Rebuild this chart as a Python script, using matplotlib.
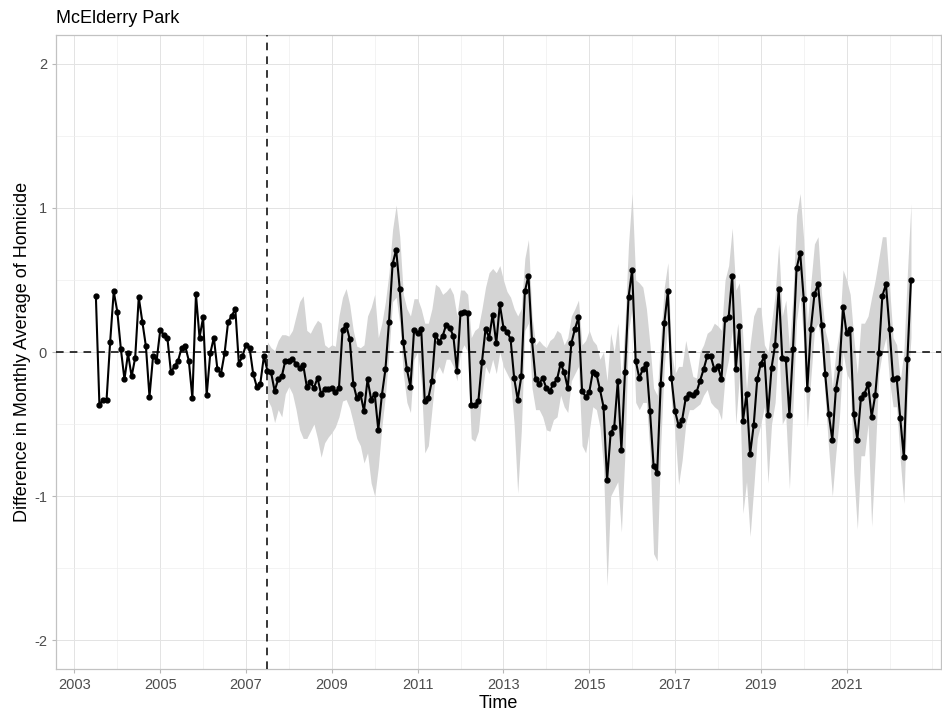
import numpy as np
import pandas as pd
import matplotlib
matplotlib.use("Agg")
import matplotlib.pyplot as plt
from matplotlib.ticker import MultipleLocator, FixedLocator

plt.rcParams['font.family'] = ['Liberation Sans', 'DejaVu Sans']

# monthly difference series, starting July 2003
diff = [
    0.39, -0.37, -0.33, -0.33, 0.07, 0.42, 0.28, 0.02, -0.19, -0.01,
    -0.17, -0.04, 0.38, 0.21, 0.04, -0.31, -0.03, -0.06, 0.15, 0.12,
    0.10, -0.14, -0.10, -0.06, 0.03, 0.04, -0.06, -0.32, 0.40, 0.10,
    0.24, -0.30, -0.01, 0.10, -0.12, -0.15, -0.01, 0.21, 0.25, 0.30,
    -0.08, -0.03, 0.05, 0.03, -0.15, -0.24, -0.22, -0.03, -0.13, -0.14,
    -0.27, -0.19, -0.17, -0.06, -0.06, -0.05, -0.08, -0.11, -0.09, -0.24,
    -0.21, -0.25, -0.18, -0.29, -0.26, -0.26, -0.25, -0.28, -0.25, 0.15,
    0.19, 0.09, -0.22, -0.32, -0.29, -0.41, -0.19, -0.33, -0.29, -0.54,
    -0.30, -0.12, 0.21, 0.61, 0.71, 0.44, 0.07, -0.12, -0.24, 0.15,
    0.13, 0.16, -0.34, -0.32, -0.20, 0.12, 0.07, 0.11, 0.19, 0.17,
    0.11, -0.13, 0.27, 0.28, 0.27, -0.37, -0.37, -0.34, -0.07, 0.16,
    0.10, 0.26, 0.06, 0.33, 0.17, 0.14, 0.09, -0.18, -0.33, -0.17,
    0.42, 0.53, 0.08, -0.19, -0.22, -0.18, -0.25, -0.27, -0.22, -0.19,
    -0.08, -0.14, -0.25, 0.06, 0.16, 0.24, -0.27, -0.31, -0.28, -0.14,
    -0.15, -0.26, -0.38, -0.89, -0.56, -0.52, -0.20, -0.68, -0.14, 0.38,
    0.57, -0.06, -0.18, -0.12, -0.08, -0.41, -0.79, -0.84, -0.22, 0.20,
    0.42, -0.18, -0.41, -0.51, -0.47, -0.32, -0.29, -0.30, -0.28, -0.20,
    -0.12, -0.03, -0.03, -0.12, -0.10, -0.19, 0.23, 0.24, 0.53, -0.12,
    0.18, -0.48, -0.29, -0.71, -0.51, -0.19, -0.08, -0.03, -0.44, -0.11,
    0.05, 0.44, -0.04, -0.05, -0.44, 0.02, 0.58, 0.69, 0.37, -0.26,
    0.16, 0.40, 0.47, 0.19, -0.15, -0.43, -0.61, -0.26, -0.11, 0.31,
    0.13, 0.16, -0.43, -0.61, -0.32, -0.29, -0.22, -0.45, -0.30, -0.01,
    0.39, 0.47, 0.16, -0.19, -0.18, -0.46, -0.73, -0.05, 0.50,
]

# interval bounds from the intervention month (July 2007) onwards
band_hi = [
    0.07, 0.03, 0.01, 0.08, 0.12, 0.12, 0.11, 0.15, 0.25, 0.35,
    0.39, 0.15, 0.13, 0.18, 0.22, 0.20, 0.05, 0.03, 0.05, 0.04,
    0.25, 0.38, 0.44, 0.33, 0.15, 0.04, 0.03, 0.05, 0.25, 0.31,
    0.40, 0.10, 0.20, 0.35, 0.55, 0.85, 1.02, 0.80, 0.40, 0.30,
    0.25, 0.37, 0.37, 0.30, 0.20, 0.20, 0.30, 0.47, 0.45, 0.40,
    0.42, 0.45, 0.40, 0.25, 0.43, 0.43, 0.40, 0.10, 0.15, 0.17,
    0.30, 0.45, 0.55, 0.58, 0.55, 0.60, 0.50, 0.42, 0.38, 0.30,
    0.25, 0.30, 0.65, 0.78, 0.25, 0.05, 0.08, 0.05, 0.03, 0.08,
    0.10, 0.15, 0.13, 0.05, 0.10, 0.25, 0.30, 0.36, 0.05, 0.08,
    0.15, 0.08, 0.05, -0.05, 0.00, -0.20, 0.13, 0.00, 0.20, -0.20,
    0.20, 0.75, 1.10, 0.50, 0.48, 0.45, 0.30, 0.05, -0.25, -0.30,
    0.10, 0.45, 0.62, 0.00, -0.15, -0.10, -0.10, 0.08, -0.05, -0.17,
    -0.18, 0.00, 0.05, 0.13, 0.15, 0.20, 0.18, 0.15, 0.50, 0.60,
    0.86, 0.43, 0.48, 0.10, -0.26, 0.05, 0.25, 0.31, 0.31, 0.05,
    0.00, 0.20, 0.40, 0.75, 0.25, 0.36, 0.02, 0.40, 0.95, 1.10,
    0.78, 0.20, 0.48, 0.75, 0.80, 0.40, 0.15, 0.05, -0.25, 0.00,
    0.15, 0.57, 0.50, 0.40, 0.10, -0.15, 0.20, 0.20, 0.25, 0.38,
    0.50, 0.65, 0.80, 0.80, 0.45, 0.10, 0.05, -0.20, 0.00, 0.55, 1.03,
]
band_lo = [
    -0.33, -0.38, -0.49, -0.40, -0.45, -0.29, -0.24, -0.29, -0.40, -0.54,
    -0.60, -0.60, -0.55, -0.50, -0.60, -0.73, -0.63, -0.59, -0.56, -0.52,
    -0.45, -0.34, -0.33, -0.39, -0.49, -0.60, -0.65, -0.77, -0.70, -0.91,
    -1.00, -0.80, -0.52, -0.30, 0.00, 0.35, 0.38, 0.20, -0.15, -0.35,
    -0.42, -0.05, 0.00, -0.20, -0.70, -0.65, -0.40, -0.15, -0.10, -0.15,
    -0.05, -0.05, -0.10, -0.20, 0.00, 0.05, 0.00, -0.60, -0.62, -0.55,
    -0.30, -0.10, -0.15, -0.05, -0.15, 0.00, -0.10, -0.15, -0.20, -0.50,
    -0.98, -0.55, 0.15, 0.20, -0.25, -0.40, -0.40, -0.45, -0.54, -0.55,
    -0.47, -0.45, -0.30, -0.38, -0.42, -0.20, -0.15, -0.10, -0.65, -0.70,
    -0.55, -0.38, -0.40, -0.52, -0.80, -1.62, -1.00, -0.95, -0.90, -1.25,
    -0.70, 0.15, 0.30, -0.35, -0.40, -0.35, -0.35, -0.70, -1.40, -1.45,
    -0.65, -0.10, 0.22, -0.35, -0.55, -0.92, -0.75, -0.50, -0.40, -0.40,
    -0.38, -0.36, -0.30, -0.26, -0.35, -0.38, -0.40, -0.47, -0.17, -0.05,
    0.15, -0.50, -0.17, -1.12, -0.90, -1.28, -0.95, -0.60, -0.50, -0.38,
    -0.91, -0.50, -0.35, 0.08, -0.50, -0.45, -0.95, -0.38, 0.22, 0.40,
    0.06, -0.52, -0.18, 0.15, 0.20, 0.05, -0.32, -0.68, -1.00, -0.70,
    -0.45, 0.00, -0.15, -0.20, -0.84, -1.23, -0.72, -0.72, -0.50, -1.21,
    -0.72, -0.15, 0.00, 0.10, -0.20, -0.38, -0.38, -0.75, -1.05, -0.30, 0.10,
]

start_month = "2003-07-01"
intervention = "2007-07-01"
x_breaks = list(range(2003, 2022, 2))
y_breaks = [-2, -1, 0, 1, 2]

months = pd.date_range(start_month, periods=len(diff), freq="MS")
t = months.year + (months.month - 1) / 12.0
cut = pd.Timestamp(intervention)
t_cut = cut.year + (cut.month - 1) / 12.0
post = t >= t_cut

W, H = 942, 712
fig = plt.figure(figsize=(W / 100, H / 100), dpi=100)
left, right, top, bottom = 55.7, 941, 35, 669
ax = fig.add_axes([left / W, 1 - bottom / H, (right - left) / W, (bottom - top) / H])

ax.fill_between(t[post], band_lo, band_hi, color="#d4d4d4", lw=0, zorder=2)
ax.axhline(0, color="black", lw=1.1, ls=(0, (5, 4)), zorder=3)
ax.plot(t, diff, color="black", lw=1.5, marker="o", ms=3.5, zorder=4)
ax.axvline(t_cut, color="black", lw=1.1, ls=(0, (5, 4)), zorder=5)

ax.set_xlim(2002.564, 2023.2)
ax.set_ylim(-2.2, 2.2)
ax.xaxis.set_major_locator(FixedLocator(x_breaks))
ax.xaxis.set_minor_locator(FixedLocator([y + 1 for y in x_breaks] + [2023]))
ax.yaxis.set_major_locator(FixedLocator(y_breaks))
ax.yaxis.set_minor_locator(MultipleLocator(0.5))
ax.set_xticklabels([str(y) for y in x_breaks])
ax.set_yticklabels([str(v) for v in y_breaks])

ax.grid(which="major", color="#e3e3e3", lw=0.7, zorder=0)
ax.grid(which="minor", color="#eeeeee", lw=0.5, zorder=0)
ax.set_axisbelow(True)
for s in ax.spines.values():
    s.set_color("#c2c2c2")
    s.set_linewidth(0.9)
ax.tick_params(which="major", length=2.8, width=0.8, color="#b8b8b8",
               labelsize=10.5, labelcolor="#4d4d4d", pad=3.5)
ax.tick_params(which="minor", length=0)

ax.set_xlabel("Time", fontsize=13, labelpad=2)
ax.set_ylabel("Difference in Monthly Average of Homicide", fontsize=13, labelpad=2)
fig.text(left / W, 1 - 22.7 / H, "McElderry Park", fontsize=13, ha="left", va="baseline")

fig.savefig("out.png", dpi=100)
